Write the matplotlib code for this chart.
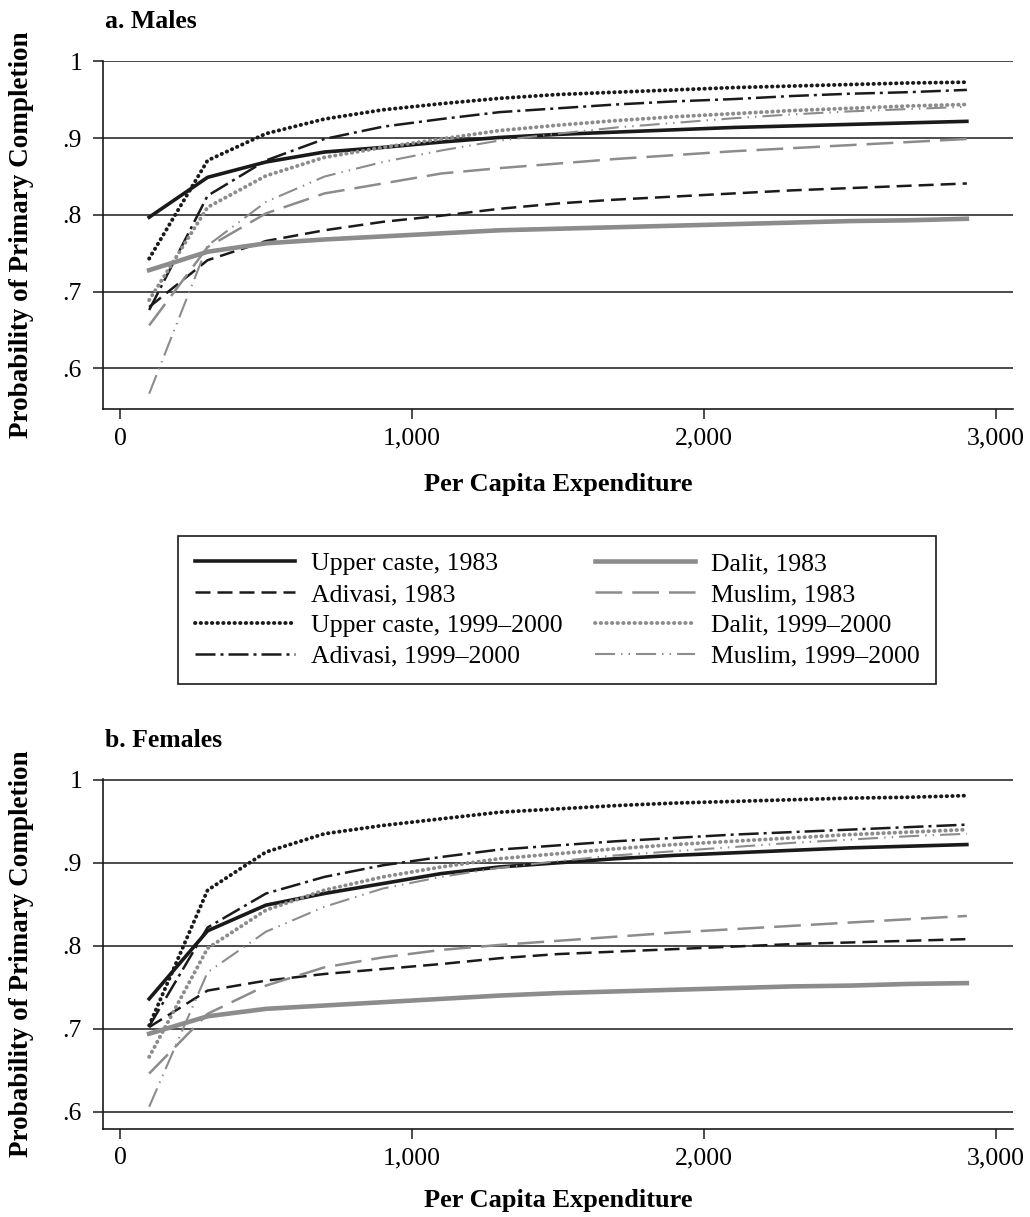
import matplotlib
matplotlib.use("Agg")
import matplotlib.pyplot as plt
import numpy as np

plt.rcParams.update({
    "font.family": "serif",
    "font.serif": ["Liberation Serif", "DejaVu Serif"],
    "font.size": 17,
    "axes.linewidth": 1.2,
    "xtick.labelsize": 18.5,
    "ytick.labelsize": 18.5,
})

# per capita expenditure (x)
expenditure = [100, 300, 500, 700, 900, 1100, 1300, 1500, 1700, 1900, 2100, 2300, 2500, 2700, 2900]

# a. Males
m_upper_1983 = [.797, .849, .869, .882, .888, .895, .901, .905, .908, .911, .914, .916, .918, .920, .922]
m_adivasi_1983 = [.680, .741, .766, .780, .791, .799, .808, .815, .820, .824, .828, .832, .835, .838, .841]
m_upper_2000 = [.743, .871, .906, .925, .937, .945, .952, .957, .960, .963, .966, .968, .970, .972, .973]
m_adivasi_2000 = [.676, .825, .871, .899, .915, .925, .934, .939, .944, .948, .951, .955, .958, .960, .963]
m_dalit_1983 = [.728, .752, .763, .768, .772, .776, .780, .782, .784, .786, .788, .790, .792, .793, .795]
m_muslim_1983 = [.656, .758, .802, .828, .841, .854, .861, .867, .873, .878, .883, .887, .891, .895, .899]
m_dalit_2000 = [.689, .810, .851, .875, .888, .899, .910, .917, .923, .928, .932, .936, .939, .942, .944]
m_muslim_2000 = [.567, .760, .817, .850, .869, .884, .897, .906, .914, .920, .926, .931, .935, .938, .941]

# b. Females
f_upper_1983 = [.736, .818, .849, .863, .875, .887, .895, .900, .905, .909, .912, .915, .918, .920, .922]
f_adivasi_1983 = [.702, .746, .758, .766, .772, .778, .785, .790, .793, .796, .799, .802, .804, .806, .808]
f_upper_2000 = [.704, .867, .913, .935, .945, .953, .961, .965, .969, .972, .974, .976, .978, .979, .981]
f_adivasi_2000 = [.703, .822, .863, .883, .897, .907, .916, .921, .926, .930, .934, .937, .940, .943, .946]
f_dalit_1983 = [.694, .715, .724, .728, .732, .736, .740, .743, .745, .747, .749, .751, .752, .754, .755]
f_muslim_1983 = [.646, .718, .752, .774, .786, .795, .801, .806, .811, .816, .820, .824, .828, .832, .836]
f_dalit_2000 = [.666, .797, .843, .867, .883, .895, .905, .911, .917, .922, .926, .930, .934, .937, .940]
f_muslim_2000 = [.606, .768, .817, .847, .869, .883, .894, .902, .909, .914, .919, .924, .928, .932, .935]

labels = ["Upper caste, 1983", "Adivasi, 1983", "Upper caste, 1999\u20132000", "Adivasi, 1999\u20132000",
          "Dalit, 1983", "Muslim, 1983", "Dalit, 1999\u20132000", "Muslim, 1999\u20132000"]

males = [m_upper_1983, m_adivasi_1983, m_upper_2000, m_adivasi_2000,
         m_dalit_1983, m_muslim_1983, m_dalit_2000, m_muslim_2000]
females = [f_upper_1983, f_adivasi_1983, f_upper_2000, f_adivasi_2000,
           f_dalit_1983, f_muslim_1983, f_dalit_2000, f_muslim_2000]

y_ticks = [0.6, 0.7, 0.8, 0.9, 1.0]
y_ticklabels = [".6", ".7", ".8", ".9", "1"]
x_ticks = [0, 1000, 2000, 3000]
x_ticklabels = ["0", "1,000", "2,000", "3,000"]

BLACK = "#1a1a1a"
GREY = "#8c8c8c"

styles = [
    dict(color=BLACK, lw=2.6, ls="-"),
    dict(color=BLACK, lw=1.8, ls=(0, (6, 2.8))),
    dict(color=BLACK, lw=2.8, ls=(0, (0.1, 1.35)), dash_capstyle="round"),
    dict(color=BLACK, lw=1.8, ls=(0, (8, 2, 1.2, 2))),
    dict(color=GREY, lw=3.3, ls="-"),
    dict(color=GREY, lw=1.8, ls=(0, (10.7, 4))),
    dict(color=GREY, lw=2.8, ls=(0, (0.1, 1.35)), dash_capstyle="round"),
    dict(color=GREY, lw=1.5, ls=(0, (9.6, 2.9, 0.7, 2.9, 0.7, 2.9))),
]


def draw_panel(ax, series, y_low, xlabel_y):
    handles = []
    for vals, lab, st in zip(series, labels, styles):
        h, = ax.plot(expenditure, vals, label=lab, zorder=3, **st)
        handles.append(h)

    ax.set_xlim(-57, 3058)
    ax.set_ylim(y_low, 1.001)
    ax.set_xticks(x_ticks)
    ax.set_xticklabels(x_ticklabels)
    ax.set_yticks(y_ticks)
    ax.set_yticklabels(y_ticklabels)
    ax.tick_params(axis="both", direction="out", length=7.3, width=1.1, color=BLACK)
    ax.tick_params(axis="y", pad=8)
    ax.tick_params(axis="x", pad=6)

    ax.spines["top"].set_visible(False)
    ax.spines["right"].set_visible(False)
    for s in ["left", "bottom"]:
        ax.spines[s].set_color(BLACK)

    ax.yaxis.grid(True, color=BLACK, linewidth=1.1)
    ax.set_axisbelow(True)

    ax.set_xlabel("Per Capita Expenditure", fontsize=19, fontweight="bold")
    ax.set_ylabel("Probability of Primary Completion", fontsize=19.5, fontweight="bold")
    ax.xaxis.set_label_coords(0.5, xlabel_y)
    ax.yaxis.set_label_coords(-0.076, 0.5)
    return handles


fig = plt.figure(figsize=(10.30, 12.17), dpi=100)
ax1 = fig.add_axes([0.1003, 0.6639, 0.8832, 0.2862])
ax2 = fig.add_axes([0.1003, 0.0726, 0.8832, 0.2873])

handles = draw_panel(ax1, males, 0.547, -0.185)
draw_panel(ax2, females, 0.5796, -0.173)

fig.text(0.102, 0.9767, "a. Males", fontsize=18.5, fontweight="bold", va="baseline")
fig.text(0.102, 0.3864, "b. Females", fontsize=18.5, fontweight="bold", va="baseline")

leg = fig.legend(handles, labels, ncol=2, loc="center", bbox_to_anchor=(0.5408, 0.4988),
                 fontsize=18.5, frameon=True, fancybox=False, framealpha=1,
                 edgecolor=BLACK, handlelength=3.9, handletextpad=0.62,
                 columnspacing=1.25, labelspacing=0.3, borderpad=0.65)
leg.get_frame().set_linewidth(1.2)

fig.savefig("out.png", dpi=100)
